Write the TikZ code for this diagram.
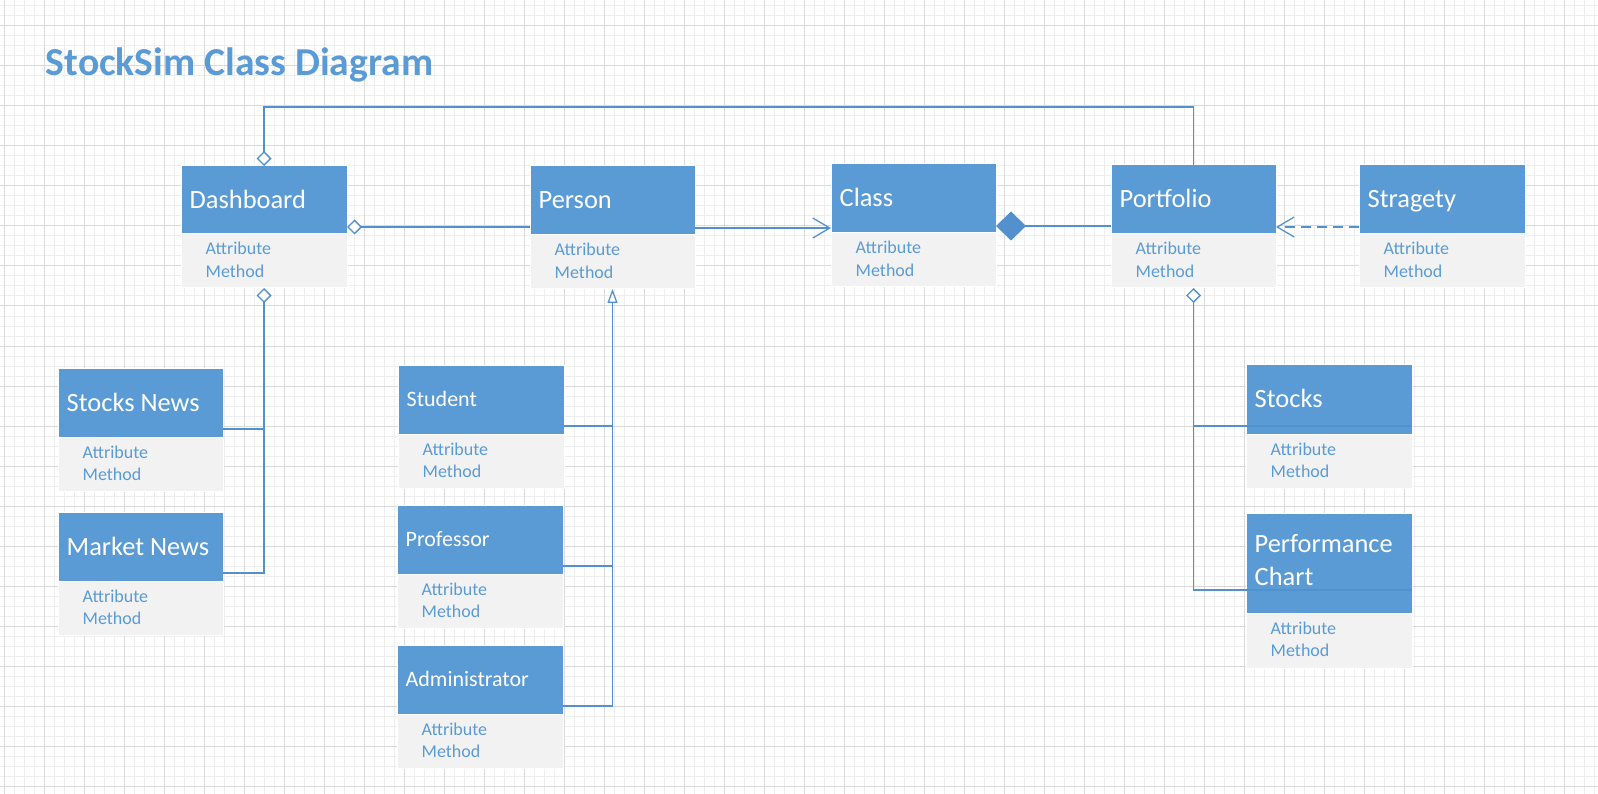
\documentclass[tikz,border=0pt]{standalone}
\usepackage{fontspec}
\setmainfont{Carlito}
\usetikzlibrary{arrows.meta}
\definecolor{ublue}{HTML}{5B9BD5}
\definecolor{lineblue}{HTML}{5290CE}
\definecolor{bodygray}{HTML}{F2F2F2}
\definecolor{gridminor}{HTML}{EEEEEE}
\definecolor{gridmajor}{HTML}{DADADA}
\tikzset{
  hdr/.style={draw=white, line width=1pt, fill=ublue, inner sep=0pt, outer sep=0pt},
  bodybox/.style={draw=white, line width=1pt, fill=bodygray, inner sep=0pt, outer sep=0pt},
  htext/.style={text=white, inner sep=0pt, font=\fontsize{26.4pt}{30pt}\selectfont, text height=17pt, text depth=0pt},
  hsmall/.style={text=white, inner sep=0pt, font=\fontsize{22pt}{26pt}\selectfont, text height=14pt, text depth=0pt},
  hperf/.style={text=white, inner sep=0pt, align=left, font=\fontsize{26.4pt}{32.7pt}\selectfont},
  btext/.style={text=ublue, inner sep=0pt, align=left, font=\fontsize{18pt}{22.7pt}\selectfont},
  conn/.style={draw=lineblue, line width=1.25pt},
  odiamond/.style={{Diamond[fill=white,length=15pt,width=15pt]}-},
  fdiamond/.style={{Diamond[fill=lineblue,length=30pt,width=29pt]}-},
  openarrow/.style={-{Straight Barb[length=17pt,width=20pt]}},
  gentri/.style={{Triangle[fill=white,length=14pt,width=10pt]}-},
  minorline/.style={draw=gridminor, line width=1pt},
  majorline/.style={draw=gridmajor, line width=1pt},
}
\newcommand\umlclass[8]{%
  \node[hdr, minimum width=#4pt, minimum height=#5pt, anchor=north west] (#1) at (#2,#3) {};
  \node[bodybox, minimum width=#4pt, minimum height=#6pt, anchor=north west] (#1b) at (#1.south west) {};
  \node[#8, anchor=west] (#1t) at ([xshift=8.5pt]#1.west) {#7};
  \node[btext, anchor=north west] (#1a) at ([xshift=24.5pt,yshift=-8.3pt]#1b.north west) {Attribute\\Method};
}
\begin{document}
\begin{tikzpicture}[x=1pt,y=-1pt]
\useasboundingbox (0,0) rectangle (1598,794);
\fill[white] (0,0) rectangle (1598,794);
% grid
\foreach \k in {0,...,159} \draw[minorline] (4.7+\k*10,0) -- (4.7+\k*10,794);
\foreach \k in {0,...,79} \draw[minorline] (0,6+\k*10) -- (1598,6+\k*10);
\foreach \k in {0,...,39} \draw[majorline] (4.7+\k*40,0) -- (4.7+\k*40,794);
\foreach \k in {0,...,19} \draw[majorline] (0,26+\k*40) -- (1598,26+\k*40);
% title
\node[anchor=base west, inner sep=0pt, text=ublue, font=\fontsize{39.6pt}{44pt}\selectfont\bfseries] (title) at (45.7,75.3) {StockSim Class Diagram};
% classes
\umlclass{dash}{181}{166}{166}{68}{54}{Dashboard}{htext}
\umlclass{per}{530}{166}{165}{69}{54}{Person}{htext}
\umlclass{cls}{831}{164}{165}{69}{54}{Class}{htext}
\umlclass{port}{1111}{165}{165}{69}{54}{Portfolio}{htext}
\umlclass{strag}{1359}{165}{166}{69}{54}{Stragety}{htext}
\umlclass{snews}{58}{368}{165}{69}{54}{Stocks News}{htext}
\umlclass{mnews}{58}{512}{165}{69}{54}{Market News}{htext}
\umlclass{stu}{398}{365}{166}{69}{54}{Student}{hsmall}
\umlclass{prof}{397}{505}{166}{69}{54}{Professor}{hsmall}
\umlclass{adm}{397}{645}{166}{69}{54}{Administrator}{hsmall}
\umlclass{stk}{1246}{364}{166}{70}{54}{Stocks}{htext}
\umlclass{perf}{1246}{513}{166}{100}{55}{Performance\\Chart}{hperf, yshift=3pt}
% connectors
\coordinate (topy) at (0,107);
\draw[conn, -{Diamond[fill=white,length=15pt,width=15pt]}] (port.north) -- (port.north |- topy) -| (dash.north);
\coordinate (d1) at ([yshift=7pt]dash.south east);
\draw[conn, odiamond] (d1) -- (d1 -| per.west);
\coordinate (p1) at ([yshift=7pt]per.south east);
\draw[conn, openarrow] (p1) -- (p1 -| cls.west);
\coordinate (c1) at ([yshift=7pt]cls.south east);
\draw[conn, fdiamond] (c1) -- (c1 -| port.west);
\coordinate (s1) at ([yshift=7pt]strag.south west);
\draw[conn, openarrow, dash pattern=on 10pt off 6pt] (s1) -- (s1 -| port.east);
% dashboard aggregation
\coordinate (sn1) at ([yshift=8pt]snews.south east);
\coordinate (mn1) at ([yshift=8pt]mnews.south east);
\draw[conn, odiamond] (dashb.south) |- (mn1);
\draw[conn] (sn1) -- (sn1 -| dashb.south);
% person generalization
\coordinate (st1) at ([yshift=8pt]stu.south east);
\coordinate (pr1) at ([yshift=8pt]prof.south east);
\coordinate (ad1) at ([yshift=8pt]adm.south east);
\draw[conn, gentri] (perb.south) |- (ad1);
\draw[conn] (st1) -- (st1 -| perb.south);
\draw[conn] (pr1) -- (pr1 -| perb.south);
% portfolio aggregation
\coordinate (sk1) at ([yshift=8pt]stk.south east);
\coordinate (pc1) at ([yshift=23pt]perf.south east);
\draw[conn, odiamond] (portb.south) |- (pc1);
\draw[conn] (sk1) -- (sk1 -| portb.south);
\end{tikzpicture}
\end{document}
